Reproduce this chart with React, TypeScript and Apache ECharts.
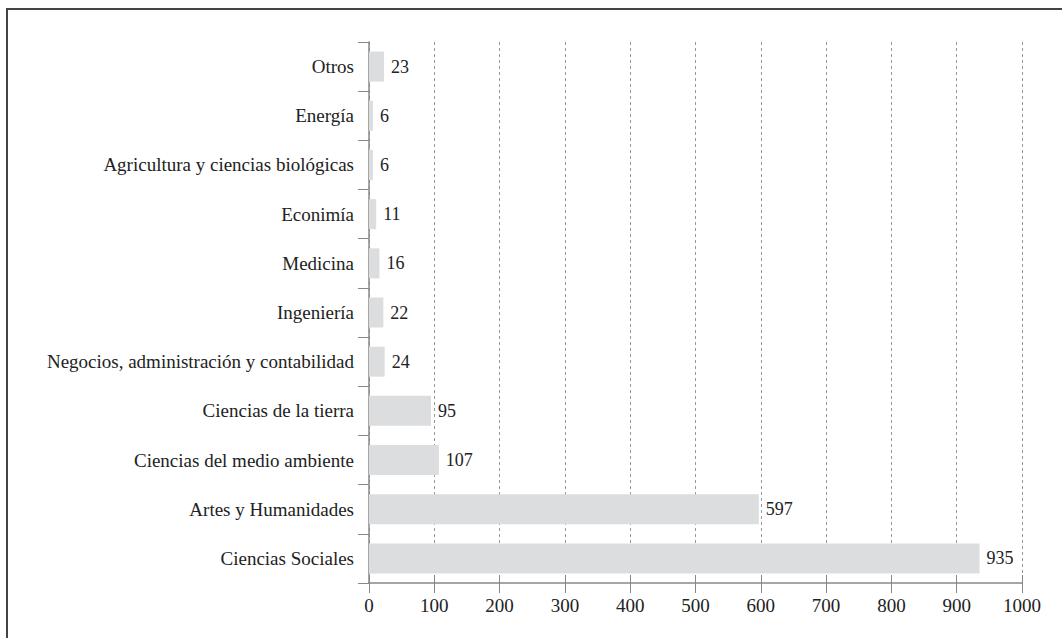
import React, { useEffect, useRef } from "react";
import * as echarts from "echarts";

const categories = [
  "Ciencias Sociales",
  "Artes y Humanidades",
  "Ciencias del medio ambiente",
  "Ciencias de la tierra",
  "Negocios, administración y contabilidad",
  "Ingeniería",
  "Medicina",
  "Econimía",
  "Agricultura y ciencias biológicas",
  "Energía",
  "Otros",
];
const values = [935, 597, 107, 95, 24, 22, 16, 11, 6, 6, 23];

const FONT = "'Liberation Serif', 'DejaVu Serif', serif";

export default function App() {
  const ref = useRef<HTMLDivElement>(null);
  useEffect(() => {
    if (!ref.current) return;
    const chart = echarts.init(ref.current, null, { renderer: "svg" });
    chart.setOption({
      animation: false,
      backgroundColor: "#ffffff",
      textStyle: { fontFamily: FONT },
      grid: { left: 369, right: 40, top: 42, bottom: 55, containLabel: false },
      graphic: [
        {
          type: "rect",
          shape: { x: 7, y: 9, width: 1200, height: 800 },
          style: { fill: "none", stroke: "#444", lineWidth: 2 },
          silent: true,
        },
      ],
      xAxis: [
        {
          type: "value",
          min: 0,
          max: 1000,
          interval: 100,
          axisLine: { show: true, lineStyle: { color: "#888", width: 1.5 } },
          axisTick: { show: true, length: 10, lineStyle: { color: "#888" } },
          axisLabel: {
            color: "#222",
            fontSize: 19,
            fontFamily: FONT,
            margin: 13,
            formatter: (v: number) => String(v),
          },
          splitLine: {
            show: true,
            lineStyle: { color: "#999", type: [3, 3], width: 1 },
          },
        },
        {
          type: "value",
          position: "bottom",
          min: 0,
          max: 1000,
          interval: 100,
          axisLine: { show: false },
          axisTick: { show: true, inside: true, length: 8, lineStyle: { color: "#888" } },
          axisLabel: { show: false },
          splitLine: { show: false },
        },
      ],
      yAxis: {
        type: "category",
        data: categories,
        axisLine: { show: true, lineStyle: { color: "#888", width: 1.5 } },
        axisTick: { show: true, length: 11, lineStyle: { color: "#888" } },
        axisLabel: { color: "#222", fontSize: 19, fontFamily: FONT, margin: 15 },
        splitLine: { show: false },
      },
      series: [
        {
          type: "bar",
          data: values,
          barWidth: 30,
          xAxisIndex: 0,
          itemStyle: { color: "#dcdddf" },
          label: {
            show: true,
            position: "right",
            distance: 7,
            color: "#222",
            fontSize: 18,
            fontFamily: FONT,
          },
        },
      ],
    });
    return () => chart.dispose();
  }, []);
  return (
    <div
      ref={ref}
      style={{ position: "fixed", left: 0, top: 0, width: 1062, height: 638 }}
    />
  );
}
